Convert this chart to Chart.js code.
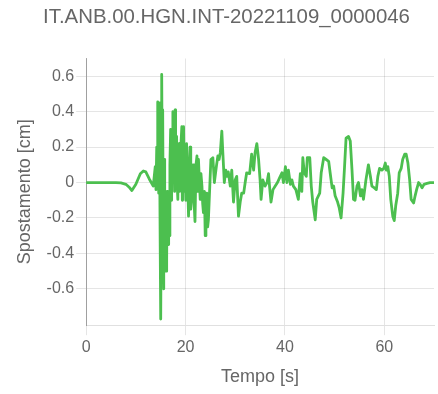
<!DOCTYPE html>
<html>
<head>
<meta charset="utf-8">
<script src="https://cdn.jsdelivr.net/npm/chart.js@4/dist/chart.umd.min.js"></script>
<style>
  html, body { margin: 0; padding: 0; background: #ffffff; }
  #wrap { width: 438px; height: 394px; }
</style>
</head>
<body>
<div id="wrap"><canvas id="chart" width="438" height="394"></canvas></div>
<script>
// Displacement trace for station IT.ANB.00.HGN, event 20221109
const chartTitle = 'IT.ANB.00.HGN.INT-20221109_0000046';
const xAxisTitle = 'Tempo [s]';
const yAxisTitle = 'Spostamento [cm]';

// time samples [s]
const timeSec = [
  // pre-event and P arrival
  0, 2, 4, 6, 7, 8, 8.6, 9.2, 10, 10.9, 11.5, 12, 12.7, 13.5,
  // strong motion
  13.9, 14.05, 14.2, 14.3, 14.4, 14.5, 14.6, 14.7, 14.76, 14.85, 14.9,
  15.0, 15.1, 15.2, 15.3, 15.4, 15.5, 15.57, 15.65, 15.7, 15.8, 15.9,
  16.0, 16.1, 16.2, 16.3, 16.4, 16.5, 16.6, 16.7, 16.85, 17.0, 17.1, 17.2, 17.3, 17.45, 17.55, 17.7, 17.8, 17.9,
  18.0, 18.1, 18.2, 18.3, 18.45, 18.55, 18.7, 18.8, 18.9, 19.05, 19.25, 19.35, 19.4, 19.5, 19.6, 19.75, 19.9,
  20.05, 20.2, 20.4, 20.6, 20.75, 20.9, 21.05, 21.2, 21.35, 21.5, 21.7, 21.9, 22.1, 22.3, 22.45, 22.6, 22.8, 22.95,
  23.1, 23.3, 23.45, 23.6, 23.8, 23.96, 24.1, 24.3, 24.45, 24.6,
  // coda
  25.1, 25.5, 25.8, 26.2, 26.5, 26.75, 27.0, 27.3, 27.5,
  27.8, 28.1, 28.3, 28.6, 29.0, 29.3, 29.65, 30.0, 30.3, 30.65, 31.0, 31.3, 31.7, 32.0, 32.3, 32.9,
  33.3, 33.7, 34.0, 34.35, 34.7, 35.0, 35.2, 35.55, 36.0, 36.4, 36.7, 36.9, 37.2, 37.6, 38.05, 38.5,
  38.9, 39.4, 39.7, 40.1, 40.4, 40.7, 41.1, 41.4, 41.7, 42.2, 42.7, 43.1, 43.4, 43.6, 43.9, 44.3,
  44.5, 45.0, 45.3, 45.6, 46.1, 46.4, 47.0, 47.3, 47.8, 48.3, 48.8, 49.1, 49.5, 49.8, 50.1, 50.6,
  50.9, 51.3, 51.7, 52.0, 52.3, 52.8, 53.15, 53.5, 53.8, 54.1, 54.5, 54.8, 55.2, 55.5, 55.8, 56.3,
  56.8, 57.2, 57.5, 58.0, 58.4, 58.7, 59.05, 59.5, 59.9, 60.2, 60.4, 60.7, 61.0, 61.3, 61.7, 62.0,
  62.3, 62.7, 63.0, 63.4, 63.7, 64.1, 64.4, 64.75, 65.1, 65.4, 65.9, 66.2, 66.5, 66.9, 67.2, 67.6,
  68.0, 68.6, 69.2, 70
];

// displacement [cm]
const displacementCm = [
  0, 0, 0, 0, -0.002, -0.01, -0.025, -0.045, -0.01, 0.05, 0.065, 0.06, 0.02, -0.02,
  0.09, -0.04, 0.2, -0.02, 0.455, 0.1, -0.06, 0.3, 0.45, 0.05, -0.36,
  -0.77, -0.2, 0.61, 0.1, 0.41, -0.2, -0.6, -0.1, 0.13, -0.5, -0.34,
  -0.22, -0.5, -0.43, -0.05, -0.1, -0.35, -0.15, -0.3, 0.1, 0.3, -0.1, -0.06, 0.25, 0.4, 0.05, 0.22, -0.05, 0.41,
  0.15, -0.02, 0.26, 0, -0.095, 0.15, 0.22, -0.05, 0.035, 0.2, 0.315, -0.1, 0.035, 0.25, 0.315, -0.05, 0.09,
  -0.1, 0.22, 0.05, -0.19, 0, 0.2, -0.15, -0.095, 0.05, 0.1, -0.1, -0.22, 0.1, 0.15, -0.05, 0.13, 0, -0.095,
  0.05, -0.02, -0.12, -0.17, -0.05, -0.3, -0.1, -0.06, -0.25, -0.21,
  0.13, 0.14, 0, 0.09, 0.15, 0.13, 0.17, 0.29, 0.17,
  0, 0.07, 0.035, 0.06, -0.02, 0.07, -0.11, 0.015, 0.035, -0.19, -0.11, -0.06, -0.06, 0, 0.055, 0.05,
  0.16, 0.07, 0.17, 0.22, 0.13, 0.015, -0.095, 0.015, -0.02, 0, 0.05, -0.02, -0.11, -0.04, -0.02, 0,
  0.025, 0.055, 0, 0.09, 0, 0.07, -0.01, 0.015, -0.02, -0.04, -0.095, 0.05, -0.05, 0.14, 0.055, 0.035,
  0.14, 0.14, -0.02, -0.11, -0.21, -0.095, -0.06, 0.055, 0.14, 0.13, 0.12, 0.055, -0.03, -0.02, -0.075, -0.11,
  -0.14, -0.2, -0.06, 0.09, 0.25, 0.26, 0.235, 0.07, -0.095, -0.1, -0.02, 0, -0.075, -0.04, -0.095, 0.015,
  0.1, 0.035, -0.02, -0.03, -0.04, 0.035, 0.08, 0.07, 0.08, 0.11, 0.07, 0.09, 0.035, -0.095, -0.19, -0.215,
  -0.13, -0.06, 0.055, 0.08, 0.13, 0.16, 0.16, 0.11, 0.015, -0.095, -0.115, -0.075, -0.04, 0, -0.01, -0.03,
  -0.01, -0.005, 0, 0
];

const xTickValues = [0, 20, 40, 60];
const yTickValues = [-0.6, -0.4, -0.2, 0, 0.2, 0.4, 0.6];

const points = timeSec.map((t, i) => ({ x: t, y: displacementCm[i] }));

const FONT = '"Liberation Sans", Arial, Helvetica, sans-serif';
const TEXT = '#666666';

new Chart(document.getElementById('chart'), {
  type: 'line',
  data: {
    datasets: [{
      data: points,
      borderColor: '#4cbf4f',
      borderWidth: 2.8,
      borderJoinStyle: 'round',
      borderCapStyle: 'round',
      pointRadius: 0,
      tension: 0,
      fill: false
    }]
  },
  options: {
    responsive: false,
    animation: false,
    layout: { padding: { left: 19, right: 4, top: 0, bottom: 4 } },
    plugins: {
      legend: { display: false },
      tooltip: { enabled: false },
      title: {
        display: true,
        text: chartTitle,
        color: TEXT,
        font: { family: FONT, size: 20.4, weight: 'normal' },
        padding: { top: 5, bottom: 29 }
      }
    },
    scales: {
      x: {
        type: 'linear',
        min: 0,
        max: 70,
        afterBuildTicks: (axis) => { axis.ticks = xTickValues.map(v => ({ value: v })); },
        grid: { color: 'rgba(0,0,0,0.1)', tickLength: 10 },
        border: { color: 'rgba(0,0,0,0.12)' },
        ticks: { color: TEXT, font: { family: FONT, size: 16 }, padding: 3, maxRotation: 0 },
        title: {
          display: true,
          text: xAxisTitle,
          color: TEXT,
          font: { family: FONT, size: 18 },
          padding: { top: 6, bottom: 2 }
        }
      },
      y: {
        type: 'linear',
        min: -0.805,
        max: 0.7,
        afterBuildTicks: (axis) => { axis.ticks = yTickValues.map(v => ({ value: v })); },
        grid: { color: 'rgba(0,0,0,0.1)', tickLength: 10 },
        border: { color: 'rgba(0,0,0,0.3)' },
        ticks: {
          color: TEXT,
          font: { family: FONT, size: 16 },
          padding: 2,
          callback: (v) => (Math.round(v * 10) / 10).toString()
        },
        title: {
          display: true,
          text: yAxisTitle,
          color: TEXT,
          font: { family: FONT, size: 18 },
          padding: { top: -5, bottom: 9 }
        }
      }
    }
  }
});
</script>
</body>
</html>
